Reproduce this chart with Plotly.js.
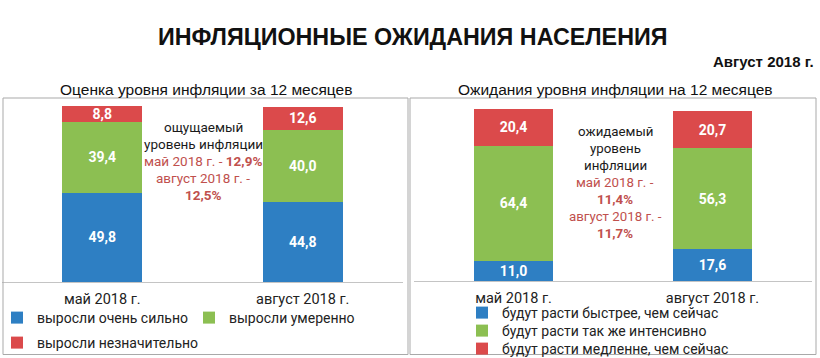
<!DOCTYPE html>
<html><head><meta charset="utf-8">
<script src="https://cdn.plot.ly/plotly-3.0.1.min.js"></script>
<style>html,body{margin:0;padding:0;background:#fff}#chart{width:820px;height:358px}</style>
</head><body><div id="chart"></div>
<script>
// ---- data ----
const categories = ["май 2018 г.", "август 2018 г."];
const leftNames = ["выросли очень сильно", "выросли умеренно", "выросли незначительно"];
const leftStrong = [49.8, 44.8];
const leftModerate = [39.4, 40.0];
const leftSlight = [8.8, 12.6];
const rightNames = ["будут расти быстрее, чем сейчас", "будут расти так же интенсивно", "будут расти медленне, чем сейчас"];
const rightFaster = [11.0, 17.6];
const rightSame = [64.4, 56.3];
const rightSlower = [20.4, 20.7];

const mainTitle = "ИНФЛЯЦИОННЫЕ ОЖИДАНИЯ НАСЕЛЕНИЯ";
const dateLabel = "Август 2018 г.";
const leftTitle = "Оценка уровня инфляции за 12 месяцев";
const rightTitle = "Ожидания уровня инфляции на 12 месяцев";
const leftNote = [["ощущаемый", 0], ["уровень инфляции", 0], ["май 2018 г. - <b>12,9%</b>", 1], ["август 2018 г. -", 1], ["<b>12,5%</b>", 1]];
const rightNote = [["ожидаемый", 0], ["уровень", 0], ["инфляции", 0], ["май 2018 г. -", 1], ["<b>11,4%</b>", 1], ["август 2018 г. -", 1], ["<b>11,7%</b>", 1]];

// ---- style ----
const W = 820, H = 358;
const colors = ["#2e7fc3", "#8cbf52", "#db4a4b"];
const noteColors = ["#1a1a1a", "#c0504d"];
const bodyFont = "Roboto, 'Noto Sans', sans-serif";
const headFont = "'Liberation Sans', Arial, sans-serif";
const px = x => x / W;
const py = y => 1 - y / H;
const fmt = arr => arr.map(v => v.toFixed(1).replace('.', ','));

function bar(name, vals, color, xa, ya, lg) {
  return {
    type: 'bar', name: name, x: categories, y: vals,
    xaxis: xa, yaxis: ya, legend: lg, width: 0.4,
    marker: {color: color, line: {width: 0}},
    text: fmt(vals), textposition: 'inside', insidetextanchor: 'middle',
    textangle: 0, constraintext: 'none',
    textfont: {family: bodyFont, size: 14, color: '#ffffff', weight: 'bold'},
    hoverinfo: 'skip'
  };
}

const data = [
  bar(leftNames[0], leftStrong, colors[0], 'x', 'y', 'legend'),
  bar(leftNames[1], leftModerate, colors[1], 'x', 'y', 'legend'),
  bar(leftNames[2], leftSlight, colors[2], 'x', 'y', 'legend3'),
  bar(rightNames[0], rightFaster, colors[0], 'x2', 'y2', 'legend2'),
  bar(rightNames[1], rightSame, colors[1], 'x2', 'y2', 'legend4'),
  bar(rightNames[2], rightSlower, colors[2], 'x2', 'y2', 'legend5')
];

const annotations = [
  {text: '<b>' + mainTitle + '</b>', x: px(412), y: py(37), font: {family: headFont, size: 23.3, color: '#111'}},
  {text: '<b>' + dateLabel + '</b>', x: px(816), y: py(62), xanchor: 'right', font: {family: headFont, size: 15, color: '#111'}},
  {text: leftTitle, x: px(206), y: py(89), font: {family: headFont, size: 15.5, color: '#111'}},
  {text: rightTitle, x: px(615), y: py(89), font: {family: headFont, size: 15.5, color: '#111'}}
];
leftNote.forEach((l, i) => annotations.push({text: l[0], x: px(203), y: py(127 + 17 * i), font: {family: bodyFont, size: 13.5, color: noteColors[l[1]]}}));
rightNote.forEach((l, i) => annotations.push({text: l[0], x: px(615), y: py(132 + 16.9 * i), font: {family: bodyFont, size: 13.3, color: noteColors[l[1]]}}));
annotations.forEach(a => { a.xref = 'paper'; a.yref = 'paper'; a.showarrow = false; if (!a.xanchor) a.xanchor = 'center'; a.yanchor = 'middle'; });

const box = (x0, x1) => ({type: 'rect', xref: 'paper', yref: 'paper', x0: px(x0), x1: px(x1), y0: py(354.5), y1: py(98), line: {color: '#a9a9a9', width: 1}, fillcolor: 'rgba(0,0,0,0)', layer: 'above'});

const xBase = {type: 'category', range: [-0.5, 1.5], showline: true, linecolor: '#c4c4c4', linewidth: 1, ticks: '', showgrid: false, zeroline: false, fixedrange: true,
  ticklabelstandoff: 4, tickfont: {family: bodyFont, size: 14.5, color: '#222'}};
const yBase = {range: [0, 103], visible: false, fixedrange: true, showgrid: false, zeroline: false};
const legBase = {font: {family: bodyFont, size: 14, color: '#222'}, bgcolor: 'rgba(0,0,0,0)', borderwidth: 0, xanchor: 'left', yanchor: 'middle', itemclick: false, itemdoubleclick: false, traceorder: 'normal'};
const leg = (o) => Object.assign({}, legBase, o);

const layout = {
  width: W, height: H, margin: {l: 0, r: 0, t: 0, b: 0, autoexpand: false},
  paper_bgcolor: '#ffffff', plot_bgcolor: 'rgba(0,0,0,0)',
  barmode: 'stack', separators: ', ',
  xaxis: Object.assign({}, xBase, {domain: [px(2), px(403)], anchor: 'y'}),
  yaxis: Object.assign({}, yBase, {domain: [py(282), py(97)], anchor: 'x'}),
  xaxis2: Object.assign({}, xBase, {domain: [px(414), px(812)], anchor: 'y2'}),
  yaxis2: Object.assign({}, yBase, {domain: [py(281), py(96)], anchor: 'x2'}),
  legend: leg({orientation: 'h', x: px(-3), y: py(318), entrywidth: 147, entrywidthmode: 'pixels'}),
  legend3: leg({orientation: 'h', x: px(-3), y: py(343)}),
  legend2: leg({orientation: 'v', x: px(462), y: py(313)}),
  legend4: leg({orientation: 'v', x: px(462), y: py(331)}),
  legend5: leg({orientation: 'v', x: px(462), y: py(349)}),
  annotations: annotations,
  shapes: [box(3, 408), box(410, 816)],
  showlegend: true
};

Plotly.newPlot('chart', data, layout, {displayModeBar: false, staticPlot: true});
</script>
</body></html>
